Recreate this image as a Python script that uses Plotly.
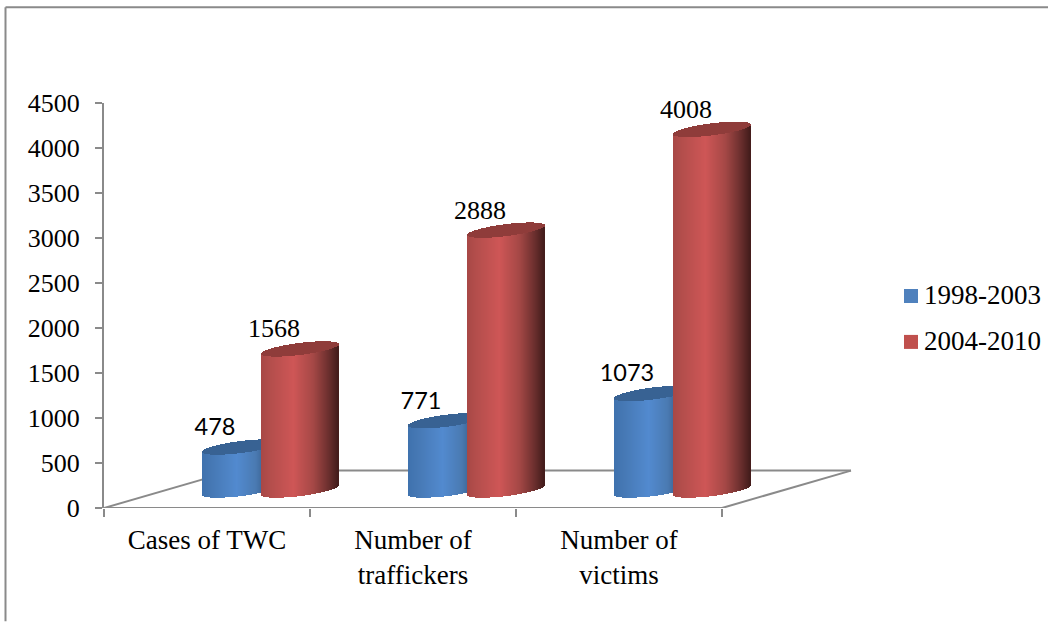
import math
import plotly.graph_objects as go

# ---- data ----
categories = ["Cases of TWC", "Number of<br>traffickers", "Number of<br>victims"]
series_names = ["1998-2003", "2004-2010"]
values_early = [478, 771, 1073]
values_late = [1568, 2888, 4008]
y_ticks = [0, 500, 1000, 1500, 2000, 2500, 3000, 3500, 4000, 4500]

# ---- styling / layout constants ----
W, H = 1052, 626
L, R, T, B = 104.0, 1052.0, 102.5, 508.5  # plot rectangle in pixels
CAT_PX = 206.0                            # width of one category in pixels
X_MAX = (R - L) / CAT_PX
FLOOR_END = (851.0 - L) / CAT_PX
Y_MAX = 4500
U_PER_PX = Y_MAX / (B - T)
SERIF = "Liberation Serif"
GRAY = "#8a8a8a"
FS = 26

def hexrgb(h):
    return tuple(int(h[i:i + 2], 16) for i in (1, 3, 5))

def ramp(stops, f):
    for (f0, c0), (f1, c1) in zip(stops, stops[1:]):
        if f <= f1:
            k = (f - f0) / (f1 - f0)
            a, b = hexrgb(c0), hexrgb(c1)
            return "rgb(%d,%d,%d)" % tuple(round(a[i] + (b[i] - a[i]) * k) for i in range(3))
    return stops[-1][1]

BLUE_STOPS = [(0, "#3F72AE"), (.12, "#4678B4"), (.45, "#528ACF"), (.7, "#4A7AB2"), (.9, "#30527C"), (1, "#1D3555")]
RED_STOPS = [(0, "#A84846"), (.12, "#B44E4C"), (.42, "#CE5656"), (.68, "#A54846"), (.88, "#6C2F2E"), (1, "#451D1C")]
BLUE_LID = "#386293"
RED_LID = "#8F3C3A"

A_PX, B_PX, SHEAR = 38.5, 6.0, -0.125   # cylinder ellipse radii and tilt, pixels
BASE_PX = 18.0                          # cylinder base centre above the zero line
OFFSETS_PX = {"early": 34.0, "late": 93.0}
LABEL_DX, LABEL_DY = -26.0, 18.0


def cylinder(cat_index, value, offset_px, stops, lid_color):
    """Two bar traces (body, lid) made of one-pixel strips, driven by the value."""
    cx = cat_index + 0.5 + offset_px / CAT_PX
    xs, widths, body_base, body_h, lid_base, lid_h, cols = [], [], [], [], [], [], []
    n = int(2 * A_PX)
    for j in range(n):
        dx = -A_PX + j + 0.5
        s = math.sqrt(max(0.0, 1 - (dx / A_PX) ** 2))
        tilt = -SHEAR * dx                     # pixels upward
        low = (BASE_PX + tilt - B_PX * s) * U_PER_PX
        front = value + (BASE_PX + tilt - B_PX * s) * U_PER_PX
        back = value + (BASE_PX + tilt + B_PX * s) * U_PER_PX
        xs.append(cx + dx / CAT_PX)
        widths.append(1.05 / CAT_PX)
        body_base.append(low)
        body_h.append(front - low)
        lid_base.append(front)
        lid_h.append(back - front)
        cols.append(ramp(stops, j / (n - 1)))
    common = dict(width=widths, showlegend=False, hoverinfo="skip", marker_line_width=0)
    return [
        go.Bar(x=xs, y=body_h, base=body_base, marker_color=cols, **common),
        go.Bar(x=xs, y=lid_h, base=lid_base, marker_color=lid_color, **common),
    ]


fig = go.Figure()

for i in range(len(categories)):
    for t in cylinder(i, values_early[i], OFFSETS_PX["early"], BLUE_STOPS, BLUE_LID):
        fig.add_trace(t)
    for t in cylinder(i, values_late[i], OFFSETS_PX["late"], RED_STOPS, RED_LID):
        fig.add_trace(t)


def label_trace(vals, key, font):
    return go.Scatter(
        x=[i + 0.5 + (OFFSETS_PX[key] + LABEL_DX) / CAT_PX for i in range(len(vals))],
        y=[v + (BASE_PX + LABEL_DY) * U_PER_PX for v in vals],
        text=[str(v) for v in vals], mode="text", textposition="middle center",
        textfont=font, showlegend=False, hoverinfo="skip", cliponaxis=False,
    )


fig.add_trace(label_trace(values_early, "early", dict(family="Lato", size=23.5, color="#000000")))
fig.add_trace(label_trace(values_late, "late", dict(family=SERIF, size=FS, color="#000000")))


# legend entries: swatch plus name, placed beside the plot
def legend_entry(name, color, row_px):
    swatch = go.Scatter(
        x=[(911 - L) / CAT_PX], y=[(B - row_px) * U_PER_PX],
        mode="markers", name=name,
        marker=dict(symbol="square", size=14, color=color, line_width=0),
        showlegend=False, hoverinfo="skip", cliponaxis=False,
    )
    label = go.Scatter(
        x=[(924 - L) / CAT_PX], y=[(B - row_px - 1) * U_PER_PX],
        mode="text", name=name, text=[name], textposition="middle right",
        textfont=dict(family=SERIF, size=27, color="#000000"),
        showlegend=False, hoverinfo="skip", cliponaxis=False,
    )
    return [swatch, label]


fig.add_traces(legend_entry(series_names[0], "#4F81BD", 296))
fig.add_traces(legend_entry(series_names[1], "#C0504D", 342))


def px_x(p):
    return (p - L) / (R - L)


def px_y(p):
    return (B - p) / (B - T)


FLOOR_DX = FLOOR_END - len(categories)
FLOOR_Y = 37.5 * U_PER_PX
line = dict(color=GRAY, width=2)
shapes = [
    # floor
    dict(type="line", xref="x", yref="y", x0=0, y0=0, x1=FLOOR_DX, y1=FLOOR_Y, line=line, layer="below"),
    dict(type="line", xref="x", yref="y", x0=FLOOR_DX, y0=FLOOR_Y, x1=FLOOR_END, y1=FLOOR_Y, line=line, layer="below"),
    dict(type="line", xref="x", yref="y", x0=len(categories), y0=0, x1=FLOOR_END, y1=FLOOR_Y, line=line, layer="below"),
    dict(type="line", xref="x", yref="y", x0=0, y0=0, x1=len(categories), y1=0, line=line, layer="below"),
    # picture frame
    dict(type="line", xref="paper", yref="paper", x0=px_x(5.5), y0=px_y(6.5), x1=px_x(1048), y1=px_y(6.5), line=line),
    dict(type="line", xref="paper", yref="paper", x0=px_x(5.5), y0=px_y(6.5), x1=px_x(5.5), y1=px_y(622), line=line),
]

fig.update_layout(
    width=W, height=H, autosize=False,
    margin=dict(l=L, r=W - R, t=T, b=H - B, pad=0),
    paper_bgcolor="#ffffff", plot_bgcolor="rgba(0,0,0,0)",
    barmode="overlay", bargap=0,
    shapes=shapes,
    showlegend=False,
    font=dict(family=SERIF, size=FS, color="#000000"),
    xaxis=dict(range=[0, X_MAX], tickmode="array",
               tickvals=[i + 0.5 for i in range(len(categories))], ticktext=categories,
               ticks="", showgrid=False, zeroline=False, showline=False, ticklabelstandoff=13,
               minor=dict(tickmode="array", tickvals=list(range(len(categories) + 1)),
                          ticks="outside", ticklen=8, tickwidth=2, tickcolor=GRAY, showgrid=False),
               tickfont=dict(family=SERIF, size=27), fixedrange=True),
    yaxis=dict(range=[0, Y_MAX], tickmode="array", tickvals=y_ticks,
               ticks="outside", ticklen=7, tickwidth=2, tickcolor=GRAY,
               showline=True, linecolor=GRAY, linewidth=2,
               showgrid=False, zeroline=False, ticklabelstandoff=10,
               tickfont=dict(family=SERIF, size=FS), fixedrange=True),
)

fig.write_html("out.html", config={"displayModeBar": False},
               post_script="document.body.style.margin='0';")
